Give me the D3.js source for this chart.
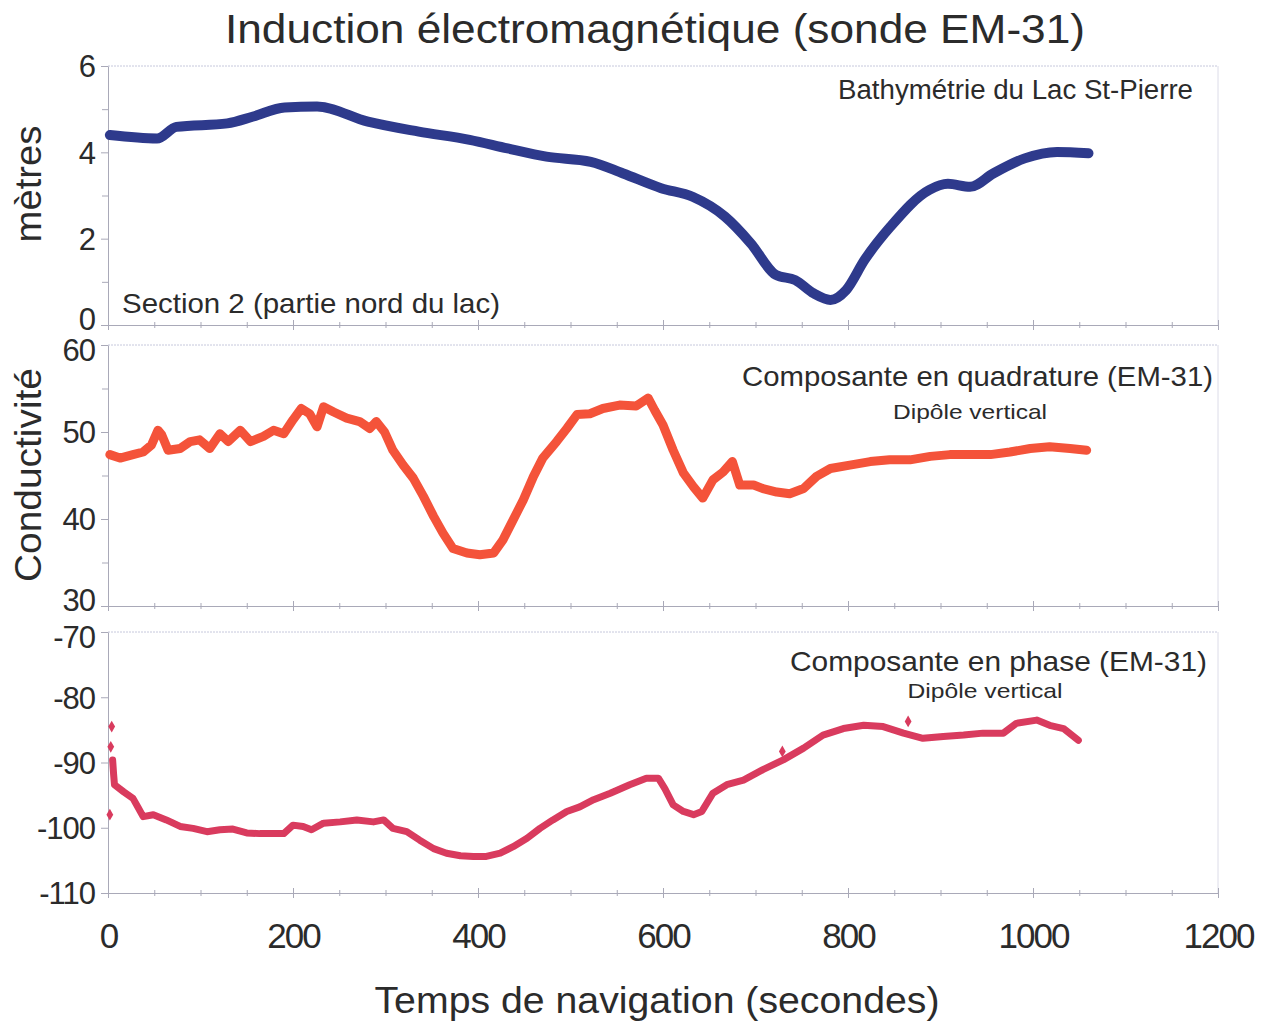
<!DOCTYPE html>
<html>
<head>
<meta charset="utf-8">
<script src="https://cdn.jsdelivr.net/npm/d3@7"></script>
<style>
  body { margin: 0; background: #fff; }
  svg { display: block; font-family: "Liberation Sans", Arial, sans-serif; }
</style>
</head>
<body>
<div id="chart"></div>
<script>
// Bathymetrie (metres) vs temps (s)
const bathyT = [2, 53, 74, 129, 157, 191, 226, 281, 336, 391, 432, 474, 522, 557, 598, 632, 667, 695, 722, 743, 763, 781, 798, 818, 846, 888, 908, 932, 957, 991, 1026, 1060];
const bathyV = [4.40, 4.32, 4.59, 4.67, 4.83, 5.04, 5.06, 4.71, 4.48, 4.29, 4.09, 3.90, 3.78, 3.51, 3.17, 2.97, 2.51, 1.89, 1.16, 1.04, 0.73, 0.58, 0.81, 1.51, 2.28, 3.13, 3.27, 3.20, 3.51, 3.86, 4.01, 3.98];

// Composante en quadrature (conductivite)
const quadT = [2, 13, 27, 38, 47, 54, 58, 65, 78, 89, 99, 110, 121, 130, 143, 154, 168, 179, 190, 200, 209, 218, 226, 233, 244, 258, 272, 283, 290, 299, 308, 319, 330, 341, 352, 362, 373, 388, 402, 417, 427, 438, 449, 460, 470, 485, 496, 507, 521, 535, 553, 571, 584, 591, 600, 611, 622, 633, 643, 654, 665, 675, 683, 698, 708, 723, 737, 752, 766, 781, 802, 824, 845, 867, 889, 910, 932, 954, 975, 997, 1018, 1040, 1058];
const quadV = [47.4, 47.0, 47.4, 47.7, 48.5, 50.2, 49.7, 47.9, 48.1, 48.9, 49.1, 48.1, 49.8, 48.9, 50.2, 48.9, 49.5, 50.2, 49.8, 51.4, 52.7, 52.1, 50.6, 52.9, 52.3, 51.6, 51.2, 50.4, 51.2, 50.0, 47.9, 46.2, 44.7, 42.6, 40.3, 38.4, 36.6, 36.1, 35.9, 36.1, 37.6, 39.9, 42.2, 44.9, 47.0, 48.9, 50.4, 52.0, 52.1, 52.7, 53.1, 53.0, 53.9, 52.5, 50.8, 47.9, 45.3, 43.7, 42.4, 44.5, 45.4, 46.6, 43.9, 43.9, 43.5, 43.1, 42.9, 43.5, 44.9, 45.8, 46.2, 46.6, 46.8, 46.8, 47.2, 47.4, 47.4, 47.4, 47.7, 48.1, 48.3, 48.1, 47.9];

// Composante en phase
const phaseT = [5, 6, 7, 17, 27, 33, 38, 49, 63, 78, 92, 107, 121, 135, 150, 164, 179, 190, 200, 211, 220, 233, 251, 269, 287, 298, 308, 323, 337, 352, 366, 381, 395, 409, 424, 438, 453, 467, 481, 496, 510, 525, 543, 564, 582, 595, 602, 611, 622, 633, 642, 654, 669, 687, 708, 730, 752, 773, 795, 817, 838, 860, 881, 903, 925, 946, 968, 982, 1004, 1018, 1033, 1049];
const phaseV = [-89.6, -91.7, -93.4, -94.5, -95.5, -97.0, -98.3, -98.0, -98.8, -99.8, -100.1, -100.6, -100.3, -100.2, -100.8, -100.9, -100.9, -100.9, -99.6, -99.8, -100.3, -99.3, -99.1, -98.8, -99.1, -98.8, -100.1, -100.6, -101.9, -103.2, -103.9, -104.3, -104.4, -104.4, -103.9, -102.9, -101.6, -100.1, -98.8, -97.5, -96.8, -95.7, -94.7, -93.4, -92.4, -92.4, -94.0, -96.5, -97.5, -98.0, -97.5, -94.7, -93.4, -92.7, -91.1, -89.6, -87.8, -85.8, -84.8, -84.3, -84.5, -85.5, -86.3, -86.0, -85.8, -85.5, -85.5, -84.0, -83.5, -84.3, -84.8, -86.6];
// points isoles
const phaseOutT = [2, 3, 4, 729, 865];
const phaseOutV = [-98.0, -87.6, -84.5, -88.3, -83.7];

const xTicks = [0, 200, 400, 600, 800, 1000, 1200];

const W = 1266, H = 1023;
const svg = d3.select('#chart').append('svg').attr('width', W).attr('height', H);

const x = d3.scaleLinear().domain([0, 1200]).range([108, 1218]);
const textColor = '#2b2b2b';
const frameColor = '#a9a9b8';

const panels = [
    { domain: [0, 6], range: [325, 66], ticks: [0, 2, 4, 6], minor: [1, 3, 5] },
    { domain: [30, 60], range: [606, 345], ticks: [30, 40, 50, 60], minor: [35, 45, 55] },
    { domain: [-110, -70], range: [893, 632], ticks: [-110, -100, -90, -80, -70], minor: [] }
];

panels.forEach((p, pi) => {
    p.y = d3.scaleLinear().domain(p.domain).range(p.range);
    const top = p.range[1], bottom = p.range[0];

    // top dotted line
    svg.append('line')
        .attr('x1', x(0)).attr('x2', x(1200))
        .attr('y1', top).attr('y2', top)
        .attr('stroke', '#c6c8dc').attr('stroke-width', 1)
        .attr('stroke-dasharray', '2,1');
    // right border
    svg.append('line')
        .attr('x1', x(1200)).attr('x2', x(1200))
        .attr('y1', top).attr('y2', bottom)
        .attr('stroke', '#dcdce8').attr('stroke-width', 1);

    // y axis
    const yAxis = svg.append('g')
        .attr('transform', `translate(${x(0)},0)`)
        .call(d3.axisLeft(p.y).tickValues(p.ticks).tickSize(7).tickPadding(6)
            .tickSizeOuter(0).tickFormat(d => String(d)));
    yAxis.select('.domain').attr('stroke', frameColor);
    yAxis.selectAll('.tick line').attr('stroke', frameColor);
    yAxis.selectAll('text')
        .attr('fill', textColor)
        .style('font-size', '31px')
        .style('letter-spacing', '-1px')
        .attr('dy', d => {
            // neighbouring panels: keep top/bottom labels apart
            if (d === p.domain[1] && pi > 0) return '0.5em';
            if (d === p.domain[0] && pi < 2) return '0.15em';
            return '0.35em';
        });

    if (p.minor.length) {
        const yMinor = svg.append('g')
            .attr('transform', `translate(${x(0)},0)`)
            .call(d3.axisLeft(p.y).tickValues(p.minor).tickSize(6).tickFormat(''));
        yMinor.select('.domain').remove();
        yMinor.selectAll('.tick line').attr('stroke', frameColor);
    }

    // x axis (ticks cross the line)
    const xAxis = svg.append('g')
        .attr('transform', `translate(0,${bottom})`)
        .call(d3.axisBottom(x).tickValues(d3.range(0, 1201, 50)).tickSize(0).tickFormat(''));
    xAxis.select('.domain').attr('stroke', frameColor);
    xAxis.selectAll('.tick').append('line')
        .attr('y1', d => d % 200 === 0 ? -5 : -3)
        .attr('y2', d => d % 200 === 0 ? 5 : 3)
        .attr('stroke', frameColor);
});

// x tick labels under the last panel
const xLab = svg.append('g')
    .attr('transform', `translate(0,${panels[2].range[0]})`)
    .call(d3.axisBottom(x).tickValues(xTicks).tickSize(0).tickPadding(30).tickFormat(d => String(d)));
xLab.select('.domain').remove();
xLab.selectAll('text')
    .attr('fill', textColor)
    .style('font-size', '35px')
    .style('letter-spacing', '-2px');

// series
const lineFor = (p) => d3.line()
    .x(d => x(d[0]))
    .y(d => p.y(d[1]));

svg.append('path')
    .datum(bathyT.map((t, i) => [t, bathyV[i]]))
    .attr('d', lineFor(panels[0]).curve(d3.curveMonotoneX))
    .attr('fill', 'none')
    .attr('stroke', '#2e3a8c')
    .attr('stroke-width', 10)
    .attr('stroke-linejoin', 'round')
    .attr('stroke-linecap', 'round');

svg.append('path')
    .datum(quadT.map((t, i) => [t, quadV[i]]))
    .attr('d', lineFor(panels[1]))
    .attr('fill', 'none')
    .attr('stroke', '#f4533a')
    .attr('stroke-width', 9)
    .attr('stroke-linejoin', 'round')
    .attr('stroke-linecap', 'round');

svg.append('path')
    .datum(phaseT.map((t, i) => [t, phaseV[i]]))
    .attr('d', lineFor(panels[2]))
    .attr('fill', 'none')
    .attr('stroke', '#d93b5e')
    .attr('stroke-width', 7)
    .attr('stroke-linejoin', 'round')
    .attr('stroke-linecap', 'round');

svg.selectAll('.outlier')
    .data(phaseOutT.map((t, i) => [t, phaseOutV[i]]))
    .enter()
    .append('path')
    .attr('class', 'outlier')
    .attr('d', d3.symbol(d3.symbolDiamond, 40))
    .attr('transform', d => `translate(${x(d[0])},${panels[2].y(d[1])})`)
    .attr('fill', '#d93b5e');

// texts
function label(txt, px, py, size, anchor, len, rotate) {
    const t = svg.append('text')
        .attr('x', px).attr('y', py)
        .attr('text-anchor', anchor)
        .attr('fill', textColor)
        .style('font-size', size + 'px')
        .text(txt);
    if (len) t.attr('textLength', len).attr('lengthAdjust', 'spacingAndGlyphs');
    if (rotate) t.attr('transform', `rotate(-90,${px},${py})`);
    return t;
}

label('Induction électromagnétique (sonde EM-31)', 655, 43, 40, 'middle', 860);
label('Temps de navigation (secondes)', 657, 1013, 37, 'middle', 565);
label('mètres', 41, 184, 36, 'middle', 117, true);
label('Conductivité', 41, 475, 36, 'middle', 214, true);

label('Bathymétrie du Lac St-Pierre', 1193, 99, 27, 'end', 355);
label('Section 2 (partie nord du lac)', 122, 313, 28, 'start', 378);
label('Composante en quadrature (EM-31)', 1213, 386, 28, 'end', 471);
label('Dipôle vertical', 970, 419, 21, 'middle', 154);
label('Composante en phase  (EM-31)', 1207, 671, 28, 'end', 417);
label('Dipôle vertical', 985, 698, 21, 'middle', 155);
</script>
</body>
</html>
